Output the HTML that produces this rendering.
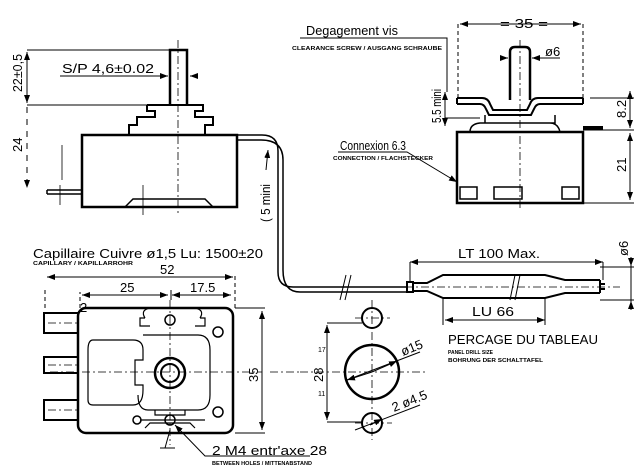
<!DOCTYPE html>
<html><head><meta charset="utf-8"><style>
html,body{margin:0;padding:0;background:#fff}
svg{display:block}
text{font-family:"Liberation Sans",sans-serif;fill:#000}
.t{font-size:13px}
.s{font-size:5px;font-weight:bold}
</style></head><body>
<svg width="640" height="472" viewBox="0 0 640 472" xmlns="http://www.w3.org/2000/svg">
<defs>
<marker id="a" markerWidth="8" markerHeight="6" refX="8" refY="3" orient="auto-start-reverse" markerUnits="userSpaceOnUse"><path d="M0,0L8,3L0,6z" fill="#000"/></marker>
</defs>
<g fill="none" stroke="#000" stroke-width="1">
<!-- ===== TOP-LEFT VIEW ===== -->
<path d="M170,105V50h17v55" stroke-width="2.5"/>
<path d="M147,105h56v6h-8v6h18v8h-8v10M147,105v6h8v6h-18v8h-8v10" stroke-width="2"/>
<rect x="82" y="135" width="155" height="72" stroke-width="2.5"/>
<path d="M125,207l8,-8h72l8,8" stroke-width="1.5"/>
<path d="M47,190h35M47,194h35M47,190v4" stroke-width="1.5"/>
<path d="M178,40V215" stroke-dasharray="8,3,2,3" stroke-width="0.8"/>
<path d="M62,145V180M143,185V215M60,185V205" stroke-width="0.8"/>
<!-- dims -->
<path d="M27,50H170M27,105H150" stroke-width="1"/>
<path d="M27,52V103" marker-start="url(#a)" marker-end="url(#a)"/>
<path d="M27,107V188" stroke-dasharray="6,6" marker-end="url(#a)"/>
<path d="M60,76H160" /><path d="M160,76H168" marker-end="url(#a)"/>
<path d="M197,76H190" marker-end="url(#a)"/>
<!-- capillary -->
<path d="M237,135H262Q278,135 278,151V272Q278,287 293,287H407" stroke-width="1.5"/>
<path d="M237,140H261Q283,140 283,160V270Q283,292 300,292H407" stroke-width="1.5"/>
<path d="M266,170L268,150" marker-end="url(#a)"/>
<path d="M340,300L346,275M345,300L351,275" stroke-width="1"/>
<!-- ===== TOP-RIGHT VIEW ===== -->
<path d="M510,100V52q0,-5 5,-5h10q5,0 5,5v48" stroke-width="2.5"/>
<path d="M457,98h25q6,0 8,6l3,6h34l3,-6q2,-6 8,-6h45M457,104h23q4,0 6,5l3,6h42l3,-6q2,-5 6,-5h43M457,98v6M583,98v6" stroke-width="2"/>
<path d="M485,115v8h70v-8M470,132q0,-8 10,-9h70q8,0 10,9" stroke-width="1.5"/>
<rect x="457" y="132" width="126" height="71" stroke-width="2.5"/>
<path d="M460,187h17v12h-17zM494,187h28v12h-28zM562,187h17v12h-17z" stroke-width="1.5"/>
<path d="M583,128h20" stroke-width="4"/>
<path d="M520,40V210" stroke-dasharray="8,3,2,3" stroke-width="0.8"/>
<path d="M458,24V100M583,24V98" stroke-dasharray="4,3"/>
<path d="M460,24H581" marker-start="url(#a)" marker-end="url(#a)"/>
<path d="M500,58H508" marker-end="url(#a)"/><path d="M560,58H532" marker-end="url(#a)"/>
<path d="M590,98H634M583,130H634M583,203H634"/>
<path d="M630,91V128" marker-start="url(#a)" marker-end="url(#a)"/>
<path d="M630,133V200" marker-start="url(#a)" marker-end="url(#a)"/>
<path d="M300,38H447V92"/>
<path d="M445,92V126" marker-start="url(#a)" marker-end="url(#a)"/>
<path d="M445,118H480" />
<path d="M338,152H407L457,182" marker-end="url(#a)"/>
<!-- ===== BULB ===== -->
<path d="M407,282h6v10h-6zM413,283h14l16,-8h102l20,5h35M413,291h14l16,7h102l20,-5h35M600,280v13" stroke-width="2"/>
<path d="M600,284h5M600,289h5" stroke-width="2"/>
<path d="M405,287H620" stroke-dasharray="8,3,2,3" stroke-width="0.8"/>
<path d="M510,300L515,275M515,300L520,275"/>
<path d="M410,262H603" marker-start="url(#a)" marker-end="url(#a)"/>
<path d="M410,262V282M603,262V280M443,298V325M545,298V325"/>
<path d="M445,320H545" marker-start="url(#a)" marker-end="url(#a)"/>
<path d="M600,267H634M600,300H634"/>
<path d="M631,257V266" marker-end="url(#a)"/><path d="M631,310V301" marker-end="url(#a)"/>
<path d="M631,266V301"/>
<!-- ===== PANEL DRILL ===== -->
<circle cx="372" cy="372" r="27" stroke-width="2.5"/>
<circle cx="372" cy="318" r="10" stroke-width="2"/>
<circle cx="372" cy="423" r="10" stroke-width="2"/>
<path d="M372,300V440M300,372H425M355,318H390M355,423H392" stroke-dasharray="8,3,2,3" stroke-width="0.8"/>
<path d="M327,323H362M327,422H362"/>
<path d="M327,325V420" marker-start="url(#a)" marker-end="url(#a)"/>
<path d="M347,380L420,352" /><path d="M372,372L397,361" marker-end="url(#a)"/><path d="M372,372L347,380" marker-end="url(#a)"/>
<path d="M355,430L420,405" /><path d="M370,425L382,419" marker-end="url(#a)"/>
<!-- ===== BOTTOM-LEFT VIEW ===== -->
<rect x="78" y="308" width="155" height="125" rx="8" stroke-width="2.5"/>
<path d="M44,313h34v20h-34zM44,357h34v16h-34zM44,400h34v20h-34z" stroke-width="2"/>
<path d="M45,308V290M235,308V275M80,308V292" stroke-dasharray="4,3"/>
<path d="M47,277H233" marker-start="url(#a)" marker-end="url(#a)"/>
<path d="M82,295H168" marker-start="url(#a)" marker-end="url(#a)"/>
<path d="M172,295H231" marker-start="url(#a)" marker-end="url(#a)"/>
<path d="M171,290V300"/>
<path d="M235,308H265M235,433H265"/>
<path d="M262,311V430" marker-start="url(#a)" marker-end="url(#a)"/>
<path d="M270,372H300M50,372H262M170,300V445M48,323H78M48,365H78M48,410H78" stroke-dasharray="8,3,2,3" stroke-width="0.8"/>
<path d="M145,318q-5,-8 5,-10h45q10,2 5,10M145,318h-5v8h10M200,318h5v8h-10" stroke-width="1.2"/>
<path d="M93,340h40q10,0 10,10v10h-8v25h8v5q0,15 -10,15h-40q-5,0 -5,-5v-50q0,-10 5,-10z" stroke-width="1.2"/>
<path d="M143,335h55q12,0 12,15v45q0,15 -12,15h-50q-10,0 -10,-15" stroke-width="1.2"/>
<path d="M155,410v5h30v-5M140,420h65M145,428l5,-5h40l5,5" stroke-width="1.2"/>
<circle cx="170" cy="373" r="15" stroke-width="2.5"/>
<circle cx="170" cy="373" r="9" stroke-width="2"/>
<circle cx="170" cy="320" r="5" stroke-width="1.5"/>
<circle cx="170" cy="420" r="5" stroke-width="1.5"/>
<circle cx="218" cy="332" r="5" stroke-width="1.5"/>
<circle cx="218" cy="412" r="5" stroke-width="1.5"/>
<circle cx="137" cy="420" r="4" stroke-width="1.5"/>
<path d="M175,425L205,456H310" marker-start="url(#a)"/>
<path d="M165,448L170,430M160,448h15"/>
</g>
<!-- text -->
<text class="t" x="62" y="73" textLength="92" lengthAdjust="spacingAndGlyphs">S/P 4,6±0.02</text>
<text class="t" transform="translate(22,92) rotate(-90)" textLength="38" lengthAdjust="spacingAndGlyphs">22±0,5</text>
<text class="t" transform="translate(22,152) rotate(-90)">24</text>
<text class="t" transform="translate(270,222) rotate(-90)" textLength="38" lengthAdjust="spacingAndGlyphs">( 5 mini</text>
<text class="t" x="306" y="35" textLength="92" lengthAdjust="spacingAndGlyphs">Degagement vis</text>
<text class="s" x="292" y="50" textLength="150" lengthAdjust="spacingAndGlyphs">CLEARANCE SCREW / AUSGANG SCHRAUBE</text>
<text class="t" x="500" y="28" textLength="48" lengthAdjust="spacingAndGlyphs">=  35  =</text>
<text class="t" x="545" y="56">ø6</text>
<text class="t" transform="translate(441,123) rotate(-90)" textLength="34" lengthAdjust="spacingAndGlyphs">5.5 mini</text>
<text class="t" transform="translate(626,118) rotate(-90)">8.2</text>
<text class="t" transform="translate(626,172) rotate(-90)">21</text>
<text class="t" x="340" y="150" textLength="66" lengthAdjust="spacingAndGlyphs">Connexion 6.3</text>
<text class="s" x="333" y="160" textLength="100" lengthAdjust="spacingAndGlyphs">CONNECTION / FLACHSTECKER</text>
<text class="t" x="33" y="258" textLength="230" lengthAdjust="spacingAndGlyphs">Capillaire Cuivre ø1,5 Lu: 1500±20</text>
<text class="s" x="33" y="265" textLength="100" lengthAdjust="spacingAndGlyphs">CAPILLARY / KAPILLARROHR</text>
<text class="t" x="160" y="274">52</text>
<text class="t" x="120" y="292">25</text>
<text class="t" x="190" y="292">17.5</text>
<text class="t" transform="translate(258,382) rotate(-90)">35</text>
<text class="t" x="80" y="312" font-size="9">2</text>
<text class="t" x="212" y="455" textLength="115" lengthAdjust="spacingAndGlyphs">2 M4 entr'axe 28</text>
<text class="s" x="212" y="465" textLength="100" lengthAdjust="spacingAndGlyphs">BETWEEN HOLES / MITTENABSTAND</text>
<text class="t" x="458" y="258" textLength="82" lengthAdjust="spacingAndGlyphs">LT 100 Max.</text>
<text class="t" x="472" y="316" textLength="42" lengthAdjust="spacingAndGlyphs">LU 66</text>
<text class="t" transform="translate(628,256) rotate(-90)">ø6</text>
<text class="t" x="448" y="344" textLength="150" lengthAdjust="spacingAndGlyphs">PERCAGE DU TABLEAU</text>
<text class="s" x="448" y="354">PANEL DRILL SIZE</text>
<text class="s" x="448" y="362" textLength="95" lengthAdjust="spacingAndGlyphs">BOHRUNG DER SCHALTTAFEL</text>
<text class="t" transform="translate(323,382) rotate(-90)">28</text>
<text x="318" y="352" font-size="7">17</text>
<text x="318" y="396" font-size="7">11</text>
<text class="t" transform="translate(403,356) rotate(-22)">ø15</text>
<text class="t" transform="translate(394,412) rotate(-22)">2 ø4.5</text>
</svg>
</body></html>
